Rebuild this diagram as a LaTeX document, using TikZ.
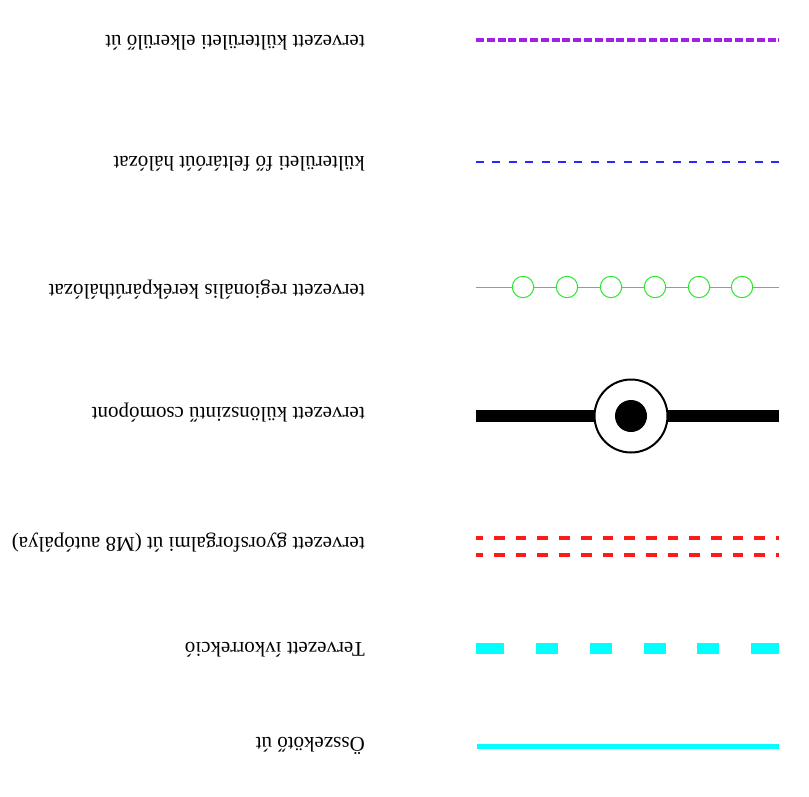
\documentclass[tikz,border=0pt]{standalone}
\usepackage{fontspec}
\setmainfont{Liberation Serif}
\usepackage{tikz}

\tikzset{
  lbl/.style={rotate=180,anchor=west,inner sep=0pt,font=\fontsize{21}{24}\selectfont},
  road/.style={line cap=butt},
}
\definecolor{lila}{RGB}{160,32,230}
\definecolor{kek}{RGB}{40,40,255}
\definecolor{zold}{RGB}{40,230,40}
\definecolor{piros}{RGB}{255,25,25}
\definecolor{cian}{RGB}{0,255,255}

\begin{document}
\begin{tikzpicture}[x=1pt,y=-1pt]
\useasboundingbox (0,0) rectangle (809,796);

% legend lines, from top to bottom
\draw[road,color=lila,line width=4pt,dash pattern=on 8pt off 2.8pt] (476,40) -- (779,40);
\draw[road,color=kek,line width=1.8pt,dash pattern=on 8pt off 8.4pt] (476,162) -- (779,162);

\draw[color=zold,line width=1pt] (476,287) -- (779,287);
\foreach \x in {523,567,611,655,699,742}
  \draw[color=zold,line width=1pt,fill=white] (\x,287) circle (10.7);

% junction
\draw[road,line width=12pt] (476,416) -- (779,416);
\draw[line width=2pt,fill=white] (631,416) circle (36.5);
\fill (631,416) circle (16);

\draw[road,color=piros,line width=4pt,dash pattern=on 10.7pt off 11pt,dash phase=3.7pt] (476,538) -- (779,538);
\draw[road,color=piros,line width=4pt,dash pattern=on 10.7pt off 11pt,dash phase=3.7pt] (476,555) -- (779,555);

\draw[road,color=cian,line width=11pt,dash pattern=on 28pt off 32pt on 22pt off 32pt on 22pt off 32pt on 22pt off 31pt on 22pt off 32pt on 28pt off 32pt] (476,648) -- (779,648);
\draw[road,color=cian,line width=5pt] (477,746) -- (779,746);

% labels
\node[lbl] (elkerulo) at (365,43) {tervezett külterületi elkerülő út};
\node[lbl] (feltaro) at (365,164) {külterületi fő feltáróút hálózat};
\node[lbl] (kerekpar) at (365,290) {tervezett regionális kerékpárúthálózat};
\node[lbl] (csomopont) at (365,413) {tervezett különszintű csomópont};
\node[lbl] (gyors) at (365,543) {tervezett gyorsforgalmi út (M8 autópálya)};
\node[lbl] (ivkorr) at (365,650) {Tervezett ívkorrekció};
\node[lbl] (osszekoto) at (365,746) {Összekötő út};

\end{tikzpicture}
\end{document}
